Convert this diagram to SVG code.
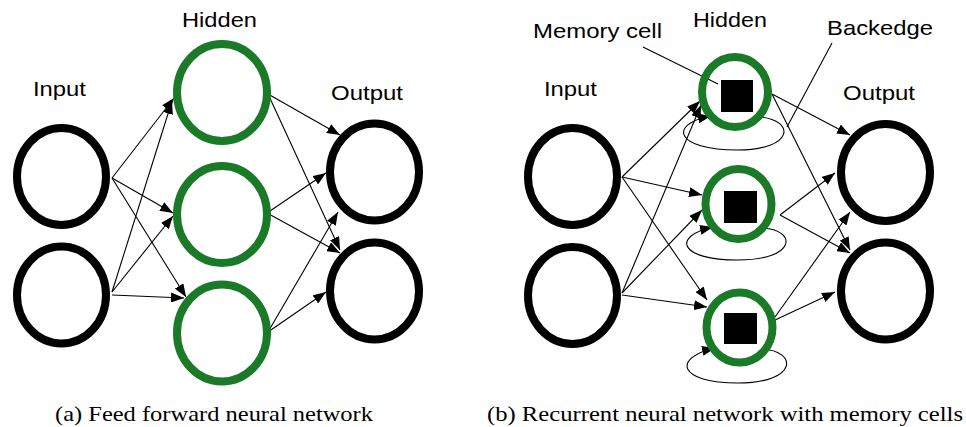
<svg xmlns="http://www.w3.org/2000/svg" width="966" height="427" viewBox="0 0 966 427">
<style>
.blk{fill:none;stroke:#000;stroke-width:8}
.grn{fill:none;stroke:#1a7a28;stroke-width:8}
.e{fill:none;stroke:#000;stroke-width:1.1;marker-end:url(#ah)}
.ln{fill:none;stroke:#000;stroke-width:1.1}
.lbl{font-family:"Liberation Sans",Arial,sans-serif;font-size:21px;fill:#000}
.cap{font-family:"Liberation Serif","Times New Roman",serif;font-size:21px;fill:#000}
</style>
<defs>
<marker id="ah" markerUnits="userSpaceOnUse" markerWidth="14" markerHeight="10" refX="13" refY="5" orient="auto">
<path d="M0,0 L13,5 L0,10 z" fill="#000"/>
</marker>
</defs>
<rect width="966" height="427" fill="#fff"/>
<g id="connectors">
<path class="e" d="M112,178 L174,98"/>
<path class="e" d="M112,178 L173,213"/>
<path class="e" d="M112,178 L186,297"/>
<path class="e" d="M112,292 L172,101"/>
<path class="e" d="M112,292 L173,216"/>
<path class="e" d="M112,295 L184,298"/>
<path class="e" d="M268,94 L340,135"/>
<path class="e" d="M268,94 L340,250"/>
<path class="e" d="M267,213 L326,173"/>
<path class="e" d="M267,213 L340,253"/>
<path class="e" d="M268,332 L338,212"/>
<path class="e" d="M268,332 L326,292"/>
<path class="e" d="M622,177 L700,101"/>
<path class="e" d="M622,177 L702,195"/>
<path class="e" d="M622,177 L707,300"/>
<path class="e" d="M622,293 L701,105"/>
<path class="e" d="M622,293 L702,210"/>
<path class="e" d="M622,295 L707,307"/>
<path class="e" d="M772,94 L850,135"/>
<path class="e" d="M772,94 L850,250"/>
<path class="e" d="M780,215 L835,173"/>
<path class="e" d="M780,215 L850,253"/>
<path class="e" d="M775,317 L850,212"/>
<path class="e" d="M775,320 L835,292"/>
<path class="e" d="M760,117 C795,120 795,150 737,150 C675,150 668,124 711,116"/>
<path class="e" d="M763,228 C797,230 797,260 738,260 C678,260 672,236 713,227"/>
<path class="e" d="M762,349 C798,351 798,383 738,383 C678,383 672,358 715,348"/>
<path class="ln" d="M643,47 L718,84"/>
<path class="ln" d="M832,43 L787,127"/>
</g>
<g id="ff-input1"><ellipse class="blk" cx="61.5" cy="176.5" rx="44.5" ry="48.5"/></g>
<g id="ff-input2"><ellipse class="blk" cx="61.5" cy="295" rx="44.5" ry="48.5"/></g>
<g id="ff-hidden1"><ellipse class="grn" cx="222" cy="92.5" rx="45" ry="48.5"/></g>
<g id="ff-hidden2"><ellipse class="grn" cx="222" cy="214.5" rx="45" ry="48.5"/></g>
<g id="ff-hidden3"><ellipse class="grn" cx="222" cy="333" rx="45" ry="48.5"/></g>
<g id="ff-output1"><ellipse class="blk" cx="374.5" cy="172" rx="44.5" ry="48.5"/></g>
<g id="ff-output2"><ellipse class="blk" cx="374.5" cy="291" rx="44.5" ry="48.5"/></g>
<g id="rnn-input1"><ellipse class="blk" cx="572.5" cy="176.5" rx="44.5" ry="48.5"/></g>
<g id="rnn-input2"><ellipse class="blk" cx="572.5" cy="295.5" rx="44.5" ry="48.5"/></g>
<g id="rnn-hidden1"><ellipse class="grn" cx="735" cy="92" rx="33" ry="35"/><rect x="721" y="80" width="32" height="32" fill="#000"/></g>
<g id="rnn-hidden2"><ellipse class="grn" cx="738.5" cy="204" rx="33" ry="35"/><rect x="724" y="191" width="33" height="32" fill="#000"/></g>
<g id="rnn-hidden3"><ellipse class="grn" cx="739.5" cy="327.5" rx="33" ry="35"/><rect x="724" y="313" width="33" height="31" fill="#000"/></g>
<g id="rnn-output1"><ellipse class="blk" cx="885.5" cy="172.5" rx="44.5" ry="48.5"/></g>
<g id="rnn-output2"><ellipse class="blk" cx="885.5" cy="291" rx="44.5" ry="48.5"/></g>
<g id="labels">
<text class="lbl" x="182" y="27" textLength="75" lengthAdjust="spacingAndGlyphs">Hidden</text>
<text class="lbl" x="33" y="96" textLength="53" lengthAdjust="spacingAndGlyphs">Input</text>
<text class="lbl" x="331" y="100" textLength="72" lengthAdjust="spacingAndGlyphs">Output</text>
<text class="lbl" x="533" y="38" textLength="129" lengthAdjust="spacingAndGlyphs">Memory cell</text>
<text class="lbl" x="693" y="27" textLength="74" lengthAdjust="spacingAndGlyphs">Hidden</text>
<text class="lbl" x="827" y="35" textLength="106" lengthAdjust="spacingAndGlyphs">Backedge</text>
<text class="lbl" x="544" y="96" textLength="53" lengthAdjust="spacingAndGlyphs">Input</text>
<text class="lbl" x="843" y="100" textLength="72" lengthAdjust="spacingAndGlyphs">Output</text>
<text class="cap" x="55" y="421" textLength="318" lengthAdjust="spacingAndGlyphs">(a) Feed forward neural network</text>
<text class="cap" x="487" y="421" textLength="476" lengthAdjust="spacingAndGlyphs">(b) Recurrent neural network with memory cells</text>
</g>
</svg>
